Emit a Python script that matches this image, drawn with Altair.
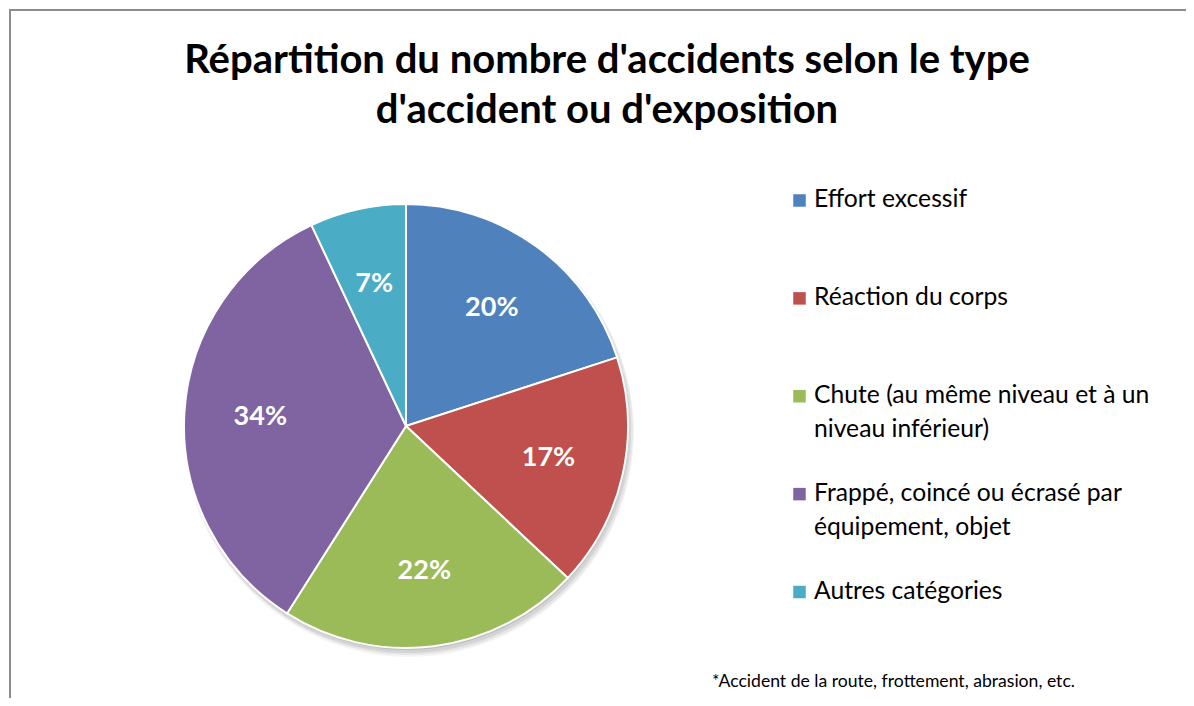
import altair as alt
import pandas as pd

categories = [
    "Effort excessif",
    "Réaction du corps",
    "Chute (au même niveau et à un niveau inférieur)",
    "Frappé, coincé ou écrasé par équipement, objet",
    "Autres catégories",
]
legend_labels = [
    "Effort excessif",
    "Réaction du corps",
    "Chute (au même niveau et à un\nniveau inférieur)",
    "Frappé, coincé ou écrasé par\néquipement, objet",
    "Autres catégories",
]
values = [20, 17, 22, 34, 7]
colors = ["#4F81BD", "#C0504D", "#9BBB59", "#8064A2", "#4BACC6"]

title_lines = ["Répartition du nombre d'accidents selon le type", "d'accident ou d'exposition"]
footnote = "*Accident de la route, frottement, abrasion, etc."

df = pd.DataFrame({
    "cat": categories,
    "legend": legend_labels,
    "value": values,
    "idx": list(range(len(categories))),
})
df["label"] = df["value"].astype(str) + "%"

FONT = "Lato"
CX, CY, R = 398, 418, 222

color_scale = alt.Scale(domain=categories, range=colors)

# border frame
frame = alt.Chart(pd.DataFrame({"k": [0]})).mark_rect(
    fill="white", stroke="#8c8c8c", strokeWidth=2
).encode(x=alt.value(2), y=alt.value(2), x2=alt.value(1400), y2=alt.value(1000))

# soft shadow under the pie
shadow_specs = [(1, 2, 222, 0.10), (2, 4, 223, 0.08), (3, 5, 224, 0.06), (3, 6, 225, 0.04)]
shadows = []
for dx, dy, rr, op in shadow_specs:
    shadows.append(
        alt.Chart(pd.DataFrame({"k": [0]})).mark_arc(
            theta=0, theta2=6.2832, radius=rr, color="black", opacity=op
        ).encode(x=alt.value(CX + dx), y=alt.value(CY + dy))
    )

base = alt.Chart(df)

pie = base.mark_arc(radius=R, stroke="white", strokeWidth=2).encode(
    theta=alt.Theta("value:Q", stack=True),
    order=alt.Order("idx:Q"),
    color=alt.Color("cat:N", scale=color_scale, legend=None),
    x=alt.value(CX),
    y=alt.value(CY),
)

pie_text = base.mark_text(
    radius=146, font=FONT, fontSize=27, fontWeight="bold", color="white"
).encode(
    theta=alt.Theta("value:Q", stack=True),
    order=alt.Order("idx:Q"),
    detail="cat:N",
    text="label:N",
    x=alt.value(CX),
    y=alt.value(CY),
)

leg_y = alt.Y("idx:Q", scale=alt.Scale(domain=[0, 4], range=[199, 590.5]), axis=None)

leg_sym = base.mark_square(size=156, opacity=1, yOffset=-6.5).encode(
    x=alt.value(791.5),
    y=leg_y,
    color=alt.Color("cat:N", scale=color_scale, legend=None),
)

leg_text = base.mark_text(
    align="left", baseline="alphabetic", font=FONT, fontSize=24.7,
    color="black", lineBreak="\n", lineHeight=34,
).encode(
    x=alt.value(806),
    y=leg_y,
    text="legend:N",
)

title = alt.Chart(pd.DataFrame({"t": title_lines, "i": [0, 1]})).mark_text(
    align="center", baseline="alphabetic", font=FONT, fontSize=40,
    fontWeight="bold", color="black",
).encode(
    x=alt.value(599),
    y=alt.Y("i:Q", scale=alt.Scale(domain=[0, 1], range=[65, 115]), axis=None),
    text="t:N",
)

foot = alt.Chart(pd.DataFrame({"t": [footnote]})).mark_text(
    align="left", baseline="alphabetic", font=FONT, fontSize=17.6, color="black"
).encode(x=alt.value(704), y=alt.value(678.5), text="t:N")

chart = alt.layer(
    frame, *shadows, pie, pie_text, leg_sym, leg_text, title, foot
).resolve_scale(y="independent").properties(
    width=1178, height=690, padding=0, autosize=alt.AutoSizeParams(type="none")
).configure_view(stroke=None)

chart.save("out.html", embed_options={"renderer": "svg", "actions": False})
